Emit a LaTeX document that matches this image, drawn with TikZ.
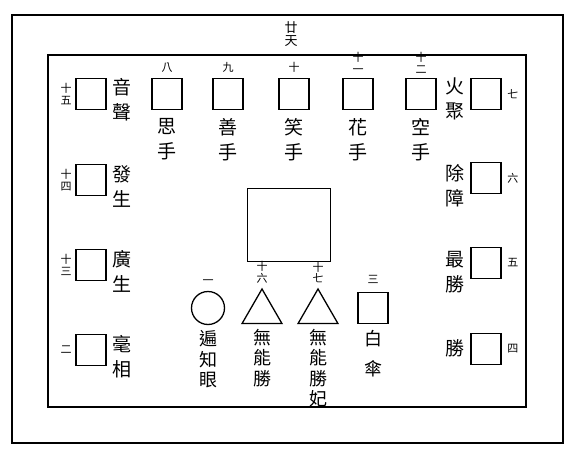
\documentclass[tikz,border=0pt]{standalone}
\usepackage{fontspec}
\setmainfont{Noto Sans CJK TC}
\usetikzlibrary{positioning,shapes.geometric}

\begin{document}
\begin{tikzpicture}[x=1pt,y=-1pt,line width=1.3pt]
    \tikzstyle{seat}=[draw, minimum width=30pt, minimum height=31pt, inner sep=0pt]
    \tikzstyle{seatnum}=[font={\fontsize{11}{11.5}\selectfont}, inner sep=0pt, align=center]
    \tikzstyle{deity}=[font={\fontsize{19}{25}\selectfont}, inner sep=0pt, align=center]
    \tikzstyle{lowdeity}=[font={\fontsize{18}{20.5}\selectfont}, inner sep=0pt, align=center]
    \useasboundingbox (0,0) rectangle (573,455);
    % frames
    \draw (12,15) rectangle (563,443);
    \draw (48,55) rectangle (526,407);
    \node[seatnum, font={\fontsize{13}{13.5}\selectfont}] (heaven) at (291,34) {廿\\天};
    % top row
    \node[seat] (s8) at (167,94) {};
    \node[seatnum, above=5pt of s8] {八};
    \node[deity, below=8pt of s8] {思\\手};
    \node[seat] (s9) at (228,94) {};
    \node[seatnum, above=5pt of s9] {九};
    \node[deity, below=8pt of s9] {善\\手};
    \node[seat] (s10) at (294,94) {};
    \node[seatnum, above=5pt of s10] {十};
    \node[deity, below=8pt of s10] {笑\\手};
    \node[seat] (s11) at (358,94) {};
    \node[seatnum, above=4pt of s11] {十\\一};
    \node[deity, below=8pt of s11] {花\\手};
    \node[seat] (s12) at (421,94) {};
    \node[seatnum, above=4pt of s12] {十\\二};
    \node[deity, below=8pt of s12] {空\\手};
    % right column
    \node[seat] (s7) at (486,94) {};
    \node[seatnum, right=5pt of s7] {七};
    \node[deity, anchor=north] at (455,77) {火\\聚};
    \node[seat] (s6) at (486,178) {};
    \node[seatnum, right=5pt of s6] {六};
    \node[deity, anchor=north] at (455,164) {除\\障};
    \node[seat] (s5) at (486,263) {};
    \node[seatnum, right=5pt of s5] {五};
    \node[deity, anchor=north] at (455,251) {最\\勝};
    \node[seat] (s4) at (486,349) {};
    \node[seatnum, right=5pt of s4] {四};
    \node[deity] at (455,348) {勝};
    % left column
    \node[seat] (s15) at (91,94) {};
    \node[seatnum, left=3pt of s15] {十\\五};
    \node[deity, anchor=north] at (122,78) {音\\聲};
    \node[seat] (s14) at (91,180) {};
    \node[seatnum, left=3pt of s14] {十\\四};
    \node[deity, anchor=north] at (122,165) {發\\生};
    \node[seat] (s13) at (91,265) {};
    \node[seatnum, left=3pt of s13] {十\\三};
    \node[deity, anchor=north] at (122,250) {廣\\生};
    \node[seat] (s2) at (91,350) {};
    \node[seatnum, left=3pt of s2] {二};
    \node[deity, anchor=north] at (122,335) {毫\\相};
    % centre
    \node[draw, minimum width=83pt, minimum height=73pt] (core) at (289,225) {};
    % bottom row
    \node[draw, circle, minimum size=33pt, inner sep=0pt] (c1) at (208,308) {};
    \node[seatnum, above=6pt of c1] {一};
    \node[lowdeity, below=5pt of c1] {遍\\知\\眼};
    \node[draw, regular polygon, regular polygon sides=3, minimum size=46pt, inner sep=0pt] (t16) at (262,312) {};
    \node[seatnum, above=4pt of t16.north] {十\\六};
    \node[lowdeity, below=4pt of t16.south] {無\\能\\勝};
    \node[draw, regular polygon, regular polygon sides=3, minimum size=46pt, inner sep=0pt] (t17) at (318,312) {};
    \node[seatnum, above=4pt of t17.north] {十\\七};
    \node[lowdeity, below=4pt of t17.south] {無\\能\\勝\\妃};
    \node[seat] (s3) at (373,308) {};
    \node[seatnum, above=8pt of s3] {三};
    \node[deity, font={\fontsize{18}{30}\selectfont}, below=6pt of s3] {白\\傘};
\end{tikzpicture}
\end{document}
